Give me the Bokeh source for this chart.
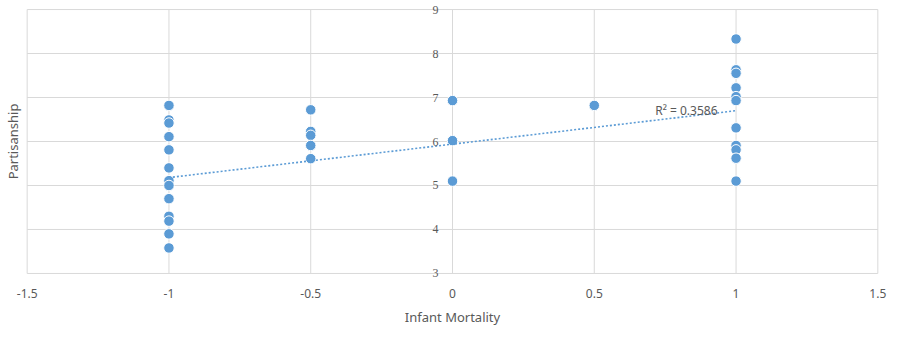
from bokeh.plotting import figure
from bokeh.models import ColumnDataSource, FixedTicker, Label, LabelSet
from bokeh.embed import file_html
from bokeh.resources import INLINE

# ---- data ----
x_vals = ([-1.0] * 13) + ([-0.5] * 5) + ([0.0] * 3) + [0.5] + ([1.0] * 11)
y_vals = [6.82, 6.49, 6.42, 6.11, 5.81, 5.40, 5.11, 5.00, 4.70, 4.30, 4.19, 3.90, 3.58,
          6.72, 6.23, 6.14, 5.91, 5.61,
          6.93, 6.02, 5.10,
          6.82,
          8.33, 7.63, 7.55, 7.22, 7.02, 6.93, 6.31, 5.91, 5.81, 5.62, 5.10]
trend_x = [-1.0, 1.0]
trend_y = [5.18, 6.70]
r2_text = "R² = 0.3586"
x_ticks = [-1.5, -1.0, -0.5, 0.0, 0.5, 1.0, 1.5]
x_tick_labels = ["-1.5", "-1", "-0.5", "0", "0.5", "1", "1.5"]
y_ticks = [3, 4, 5, 6, 7, 8, 9]
y_tick_labels = ["3", "4", "5", "6", "7", "8", "9"]

FONT = "Noto Sans"
TXT = "#595959"
GRID = "#D9D9D9"
BLUE = "#5B9BD5"

# small padding so that edge grid lines and the "9"/"3" labels are not clipped
XPAD, YPAD = 0.02, 0.16
p = figure(width=900, height=340, output_backend="svg", toolbar_location=None,
           x_range=(x_ticks[0] - XPAD, x_ticks[-1] + XPAD),
           y_range=(y_ticks[0] - YPAD, y_ticks[-1] + YPAD),
           min_border_left=19, min_border_right=17, min_border_top=2, min_border_bottom=60)
p.outline_line_color = None
p.background_fill_color = "white"
p.border_fill_color = "white"
p.xgrid.visible = False
p.ygrid.visible = False

# grid lines (plot area spans exactly the tick range)
n_x, n_y = len(x_ticks), len(y_ticks)
p.segment(x0=x_ticks, x1=x_ticks, y0=[y_ticks[0]] * n_x, y1=[y_ticks[-1]] * n_x,
          line_color=GRID, line_width=1)
p.segment(x0=[x_ticks[0]] * n_y, x1=[x_ticks[-1]] * n_y, y0=y_ticks, y1=y_ticks,
          line_color=GRID, line_width=1)

# x axis
p.xaxis.ticker = FixedTicker(ticks=x_ticks)
p.xaxis.major_label_overrides = {t: l for t, l in zip(x_ticks, x_tick_labels)}
p.xaxis.axis_line_color = None
p.xaxis.major_tick_line_color = None
p.xaxis.major_tick_out = 0
p.xaxis.major_tick_in = 0
p.xaxis.minor_tick_line_color = None
p.xaxis.major_label_standoff = 8
p.xaxis.major_label_text_font = FONT
p.xaxis.major_label_text_font_size = "12px"
p.xaxis.major_label_text_color = TXT
p.xaxis.axis_label = "Infant Mortality"
p.xaxis.axis_label_text_font = FONT
p.xaxis.axis_label_text_font_size = "13px"
p.xaxis.axis_label_text_font_style = "normal"
p.xaxis.axis_label_text_color = TXT
p.xaxis.axis_label_standoff = 7

# y axis: only the title at the left; tick labels drawn at x = 0
p.yaxis.ticker = FixedTicker(ticks=[])
p.yaxis.axis_line_color = None
p.yaxis.major_tick_line_color = None
p.yaxis.major_tick_out = 0
p.yaxis.major_tick_in = 0
p.yaxis.minor_tick_line_color = None
p.yaxis.major_label_standoff = 0
p.yaxis.major_label_text_font_size = "0px"
p.yaxis.axis_label = "Partisanship"
p.yaxis.axis_label_text_font = FONT
p.yaxis.axis_label_text_font_size = "13px"
p.yaxis.axis_label_text_font_style = "normal"
p.yaxis.axis_label_text_color = TXT
p.yaxis.axis_label_standoff = 0

# tick labels of the vertical axis, which crosses at x = 0
ysrc = ColumnDataSource(dict(x=[0.0] * len(y_ticks), y=y_ticks, t=y_tick_labels))
p.add_layout(LabelSet(x="x", y="y", text="t", source=ysrc, x_offset=-14, text_align="right",
                      text_baseline="middle", text_font=FONT, text_font_size="12px",
                      text_color=TXT))

# points
src = ColumnDataSource(dict(x=x_vals, y=y_vals))
p.scatter(x="x", y="y", source=src, size=10.5, fill_color=BLUE, line_color="white", line_width=1)

# trendline
p.line(trend_x, trend_y, line_color=BLUE, line_width=1.6, line_dash="2 2")

p.add_layout(Label(x=0.715, y=6.70, text=r2_text, text_font=FONT, text_font_size="12px",
                   text_color=TXT, text_baseline="middle"))

open("out.html", "w").write(file_html(p, INLINE))
